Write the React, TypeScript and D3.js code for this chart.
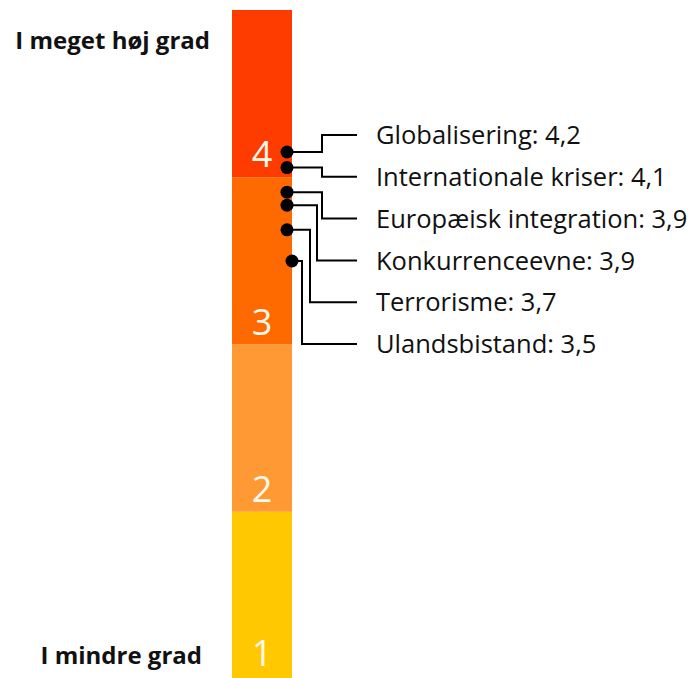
import React from 'react'
import * as d3 from 'd3'

// levels on the scale, bottom to top
const levels = [1, 2, 3, 4]
const levelColors = ['#ffc800', '#ff9933', '#ff6a00', '#ff3c00']

// topics and their average score
const topics = [
  'Globalisering',
  'Internationale kriser',
  'Europæisk integration',
  'Konkurrenceevne',
  'Terrorisme',
  'Ulandsbistand',
]
const scores = [4.2, 4.1, 3.9, 3.9, 3.7, 3.5]

const topLabel = 'I meget høj grad'
const bottomLabel = 'I mindre grad'

const W = 694
const H = 678

// elbow positions for the connector lines
const elbowX = [322, 322, 322, 317, 310, 302]

export default function App() {
  const barX = 232
  const barW = 60
  const y = d3.scaleLinear().domain([1, 5]).range([679, 10])
  // dots sit on a slightly compressed scale, then get pushed apart
  const dotY = d3.scaleLinear().domain([3.5, 4.2]).range([261, 152])
  const labelY = d3.scalePoint<string>().domain(topics).range([135, 344])

  const fmt = (v: number) => v.toFixed(1).replace('.', ',')

  // simple collision handling for identical scores
  const ys = scores.map(s => dotY(s))
  const minGap = 13
  for (let i = 1; i < ys.length; i++) {
    if (ys[i] - ys[i - 1] < minGap) {
      const mid = (ys[i] + ys[i - 1]) / 2
      ys[i - 1] = mid - minGap / 2
      ys[i] = mid + minGap / 2
    }
  }
  const dotX = scores.map((s, i) => (i === scores.length - 1 ? barX + barW : barX + barW - 5))

  const font = '"Open Sans", sans-serif'

  return (
    <svg width={W} height={H} style={{ position: 'fixed', top: 0, left: 0, background: '#fff' }}>
      {levels.map((l, i) => (
        <rect key={l} x={barX} y={y(l + 1)} width={barW} height={y(l) - y(l + 1)} fill={levelColors[i]} />
      ))}
      {levels.map(l => (
        <text
          key={'t' + l}
          x={barX + barW / 2}
          y={Math.min(y(l) - 10, H - 12)}
          textAnchor="middle"
          fill="#fff8ec"
          fontFamily={font}
          fontSize={36}
        >
          {l}
        </text>
      ))}

      {topics.map((t, i) => {
        const ly = labelY(t) as number
        const ex = elbowX[i]
        return (
          <g key={t}>
            <path
              d={`M${dotX[i]},${ys[i]}H${ex}V${ly}H357`}
              fill="none"
              stroke="#000"
              strokeWidth={2}
            />
            <circle cx={dotX[i]} cy={ys[i]} r={6.5} fill="#000" />
            <text x={376} y={ly} dy="0.36em" fontFamily={font} fontSize={25.5} fill="#111">
              {t}: {fmt(scores[i])}
            </text>
          </g>
        )
      })}

      <text x={210} y={40} dy="0.36em" textAnchor="end" fontFamily={font} fontWeight="bold" fontSize={24} fill="#111">
        {topLabel}
      </text>
      <text x={202} y={655} dy="0.36em" textAnchor="end" fontFamily={font} fontWeight="bold" fontSize={24} fill="#111">
        {bottomLabel}
      </text>
    </svg>
  )
}
